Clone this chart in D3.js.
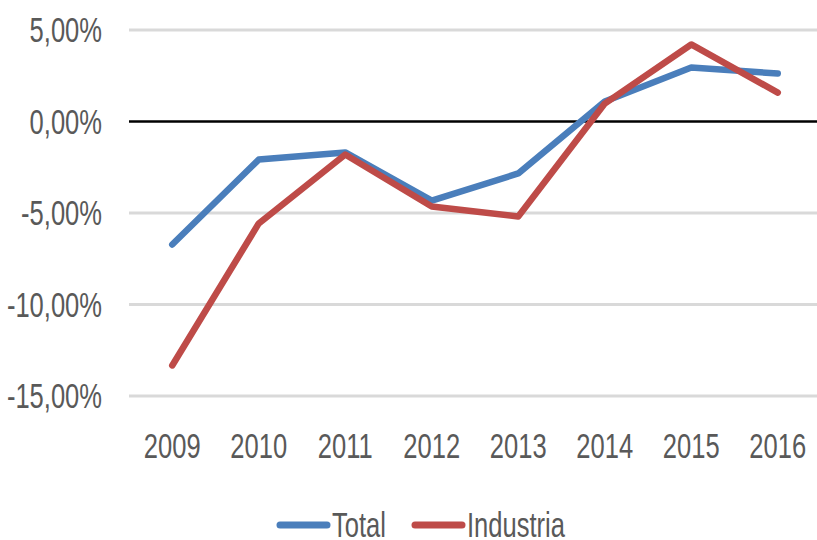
<!DOCTYPE html>
<html>
<head>
<meta charset="utf-8">
<script src="https://cdn.jsdelivr.net/npm/d3@7"></script>
<style>
  body { margin: 0; background: #fff; }
  svg text { font-family: "Liberation Sans", Arial, sans-serif; fill: #595959; }
</style>
</head>
<body>
<svg id="chart" width="817" height="540"></svg>
<script>
// data (percent)
const years = ['2009', '2010', '2011', '2012', '2013', '2014', '2015', '2016'];
const total = [-6.72, -2.08, -1.69, -4.32, -2.84, 1.09, 2.95, 2.62];
const industria = [-13.33, -5.57, -1.80, -4.64, -5.19, 0.98, 4.21, 1.58];
const yTicks = [5, 0, -5, -10, -15];

const series = [
    {name: 'Total', values: total, color: '#4a7ebb'},
    {name: 'Industria', values: industria, color: '#be4b48'}
];

// the original text is tall and narrow, squeeze the regular font
const squeeze = 0.73;
const fontSize = '35px';

const svg = d3.select('#chart');

const x = d3.scaleBand()
    .domain(years)
    .range([129, 821]);

const y = d3.scaleLinear()
    .domain([-15, 5])
    .range([396, 30]);

// horizontal gridlines
svg.append('g')
    .selectAll('line')
    .data(yTicks.filter(d => d !== 0))
    .enter().append('line')
    .attr('x1', 129)
    .attr('x2', 817)
    .attr('y1', d => y(d))
    .attr('y2', d => y(d))
    .attr('stroke', '#d9d9d9')
    .attr('stroke-width', 3);

// y labels
svg.append('g')
    .selectAll('text')
    .data(yTicks)
    .enter().append('text')
    .attr('transform', d => `translate(102, ${y(d) + 12}) scale(${squeeze}, 1)`)
    .attr('text-anchor', 'end')
    .style('font-size', fontSize)
    .text(d => d3.format('.2f')(d).replace('.', ',').replace('−', '-') + '%');

// zero line
svg.append('line')
    .attr('x1', 129)
    .attr('x2', 817)
    .attr('y1', y(0))
    .attr('y2', y(0))
    .attr('stroke', '#000')
    .attr('stroke-width', 2.5);

// x labels
svg.append('g')
    .selectAll('text')
    .data(years)
    .enter().append('text')
    .attr('transform', d => `translate(${x(d) + x.bandwidth() / 2}, 458) scale(${squeeze}, 1)`)
    .attr('text-anchor', 'middle')
    .style('font-size', fontSize)
    .text(d => d);

// lines
const line = d3.line()
    .x((d, i) => x(years[i]) + x.bandwidth() / 2)
    .y(d => y(d));

svg.append('g')
    .selectAll('path')
    .data(series)
    .enter().append('path')
    .attr('d', d => line(d.values))
    .attr('fill', 'none')
    .attr('stroke', d => d.color)
    .attr('stroke-width', 6.5)
    .attr('stroke-linejoin', 'round')
    .attr('stroke-linecap', 'round');

// legend
const legendX = [278, 413];
const legend = svg.append('g')
    .selectAll('g')
    .data(series)
    .enter().append('g')
    .attr('transform', (d, i) => `translate(${legendX[i]}, 525)`);

legend.append('line')
    .attr('x1', 2)
    .attr('x2', 49)
    .attr('stroke', d => d.color)
    .attr('stroke-width', 7)
    .attr('stroke-linecap', 'round');

legend.append('text')
    .attr('transform', `translate(54, 12) scale(${squeeze}, 1)`)
    .style('font-size', fontSize)
    .text(d => d.name);
</script>
</body>
</html>
